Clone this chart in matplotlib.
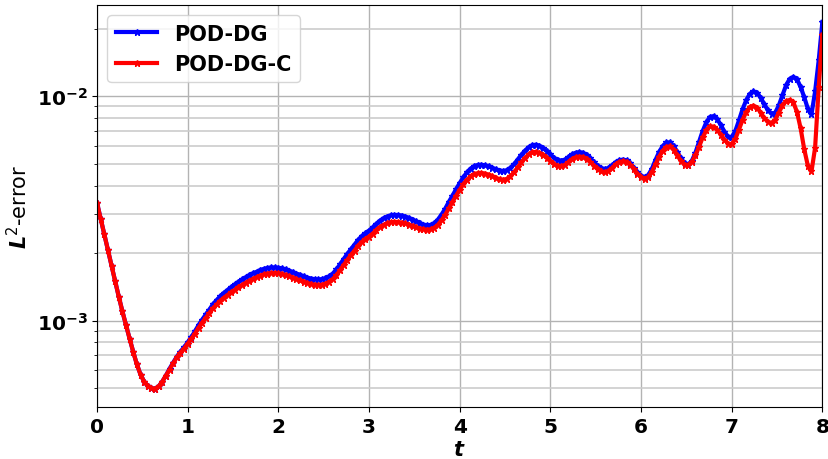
import numpy as np
import matplotlib
matplotlib.use('Agg')
import matplotlib.pyplot as plt

# L2 error of the two reduced models, sampled every 0.04 in t (values in units of 1e-3)
pod_dg = np.array([
    3.35, 2.85, 2.43, 2.07, 1.76, 1.50, 1.28, 1.10, 0.955, 0.83,
    0.725, 0.638, 0.575, 0.535, 0.51, 0.499, 0.498, 0.509, 0.535, 0.569,
    0.61, 0.65, 0.69, 0.728, 0.76, 0.80, 0.845, 0.895, 0.955, 1.01,
    1.065, 1.12, 1.185, 1.235, 1.285, 1.33, 1.37, 1.41, 1.45, 1.49,
    1.525, 1.56, 1.595, 1.625, 1.65, 1.68, 1.70, 1.715, 1.725, 1.725,
    1.72, 1.71, 1.69, 1.67, 1.645, 1.62, 1.60, 1.575, 1.555, 1.54,
    1.53, 1.525, 1.53, 1.545, 1.575, 1.62, 1.69, 1.78, 1.88, 1.98,
    2.08, 2.18, 2.29, 2.38, 2.45, 2.52, 2.60, 2.70, 2.79, 2.86,
    2.91, 2.945, 2.96, 2.955, 2.94, 2.91, 2.87, 2.82, 2.77, 2.72,
    2.68, 2.66, 2.67, 2.72, 2.82, 2.97, 3.15, 3.38, 3.60, 3.85,
    4.10, 4.35, 4.58, 4.76, 4.88, 4.94, 4.95, 4.92, 4.87, 4.80,
    4.72, 4.66, 4.64, 4.68, 4.80, 4.98, 5.22, 5.48, 5.72, 5.92,
    6.05, 6.08, 6.02, 5.88, 5.70, 5.50, 5.32, 5.20, 5.16, 5.22,
    5.35, 5.50, 5.60, 5.63, 5.60, 5.48, 5.30, 5.08, 4.90, 4.78,
    4.74, 4.78, 4.92, 5.08, 5.18, 5.22, 5.18, 5.02, 4.80, 4.58,
    4.42, 4.36, 4.45, 4.75, 5.20, 5.65, 6.00, 6.22, 6.22, 6.00,
    5.65, 5.30, 5.02, 4.96, 5.15, 5.60, 6.25, 7.00, 7.65, 8.08,
    8.15, 7.90, 7.45, 6.95, 6.60, 6.58, 7.00, 7.80, 8.75, 9.60,
    10.25, 10.50, 10.35, 9.85, 9.20, 8.65, 8.35, 8.45, 9.10, 10.10,
    11.20, 11.95, 12.20, 11.90, 11.00, 9.90, 8.80, 8.30, 10.50, 14.50,
    21.40]) * 1e-3

pod_dg_c = np.array([
    3.35, 2.85, 2.43, 2.07, 1.76, 1.50, 1.28, 1.10, 0.955, 0.83,
    0.725, 0.638, 0.575, 0.535, 0.51, 0.499, 0.498, 0.509, 0.535, 0.569,
    0.605, 0.645, 0.685, 0.72, 0.75, 0.79, 0.83, 0.875, 0.93, 0.98,
    1.03, 1.08, 1.135, 1.18, 1.225, 1.265, 1.30, 1.335, 1.37, 1.41,
    1.44, 1.475, 1.505, 1.535, 1.56, 1.585, 1.605, 1.62, 1.63, 1.63,
    1.625, 1.615, 1.595, 1.575, 1.555, 1.53, 1.51, 1.49, 1.47, 1.455,
    1.445, 1.44, 1.445, 1.46, 1.49, 1.53, 1.59, 1.675, 1.77, 1.86,
    1.96, 2.05, 2.16, 2.24, 2.31, 2.37, 2.44, 2.53, 2.61, 2.67,
    2.715, 2.745, 2.755, 2.75, 2.735, 2.71, 2.68, 2.64, 2.60, 2.57,
    2.55, 2.54, 2.55, 2.59, 2.67, 2.80, 2.96, 3.16, 3.37, 3.60,
    3.83, 4.05, 4.24, 4.39, 4.49, 4.54, 4.55, 4.52, 4.47, 4.40,
    4.32, 4.26, 4.24, 4.28, 4.40, 4.58, 4.82, 5.07, 5.31, 5.50,
    5.62, 5.65, 5.60, 5.48, 5.32, 5.14, 4.98, 4.89, 4.87, 4.94,
    5.08, 5.24, 5.34, 5.38, 5.36, 5.26, 5.10, 4.90, 4.73, 4.62,
    4.58, 4.63, 4.78, 4.97, 5.09, 5.13, 5.10, 4.95, 4.74, 4.52,
    4.36, 4.29, 4.36, 4.60, 4.98, 5.38, 5.72, 5.94, 5.97, 5.78,
    5.45, 5.15, 4.95, 4.93, 5.10, 5.45, 5.95, 6.55, 7.05, 7.33,
    7.32, 7.08, 6.75, 6.40, 6.15, 6.12, 6.45, 7.10, 7.85, 8.50,
    8.95, 9.08, 8.90, 8.45, 7.98, 7.68, 7.60, 7.85, 8.45, 9.10,
    9.50, 9.62, 9.40, 8.50, 7.20, 5.80, 4.90, 4.62, 5.90, 11.00,
    18.80]) * 1e-3

t = np.linspace(0, 8, len(pod_dg))

fig = plt.figure(figsize=(8.29, 4.6), dpi=100)
ax = fig.add_axes([0.117, 0.113, 0.875, 0.874])

ax.plot(t, pod_dg, color='blue', lw=3, marker='*', ms=5, label='POD-DG')
ax.plot(t, pod_dg_c, color='red', lw=3, marker='*', ms=5, label='POD-DG-C')

ax.set_yscale('log')
ax.set_xlim(0, 8)
ax.set_ylim(4.12e-4, 2.55e-2)
ax.set_xticks(range(0, 9))

ax.grid(True, which='major', color='0.7', lw=1)
ax.grid(True, which='minor', axis='y', color='0.8', lw=1.2)

for lab in ax.get_xticklabels() + ax.get_yticklabels():
    lab.set_fontsize(14.5)
    lab.set_fontweight('bold')

ax.set_xlabel(r'$\boldsymbol{t}$', fontsize=15, labelpad=2)
ax.set_ylabel(r'$\boldsymbol{L}^2$-error', fontsize=15)

ax.legend(loc='upper left', prop={'size': 15, 'weight': 'bold'}, borderaxespad=0.5)

fig.savefig('out.png', dpi=100)
